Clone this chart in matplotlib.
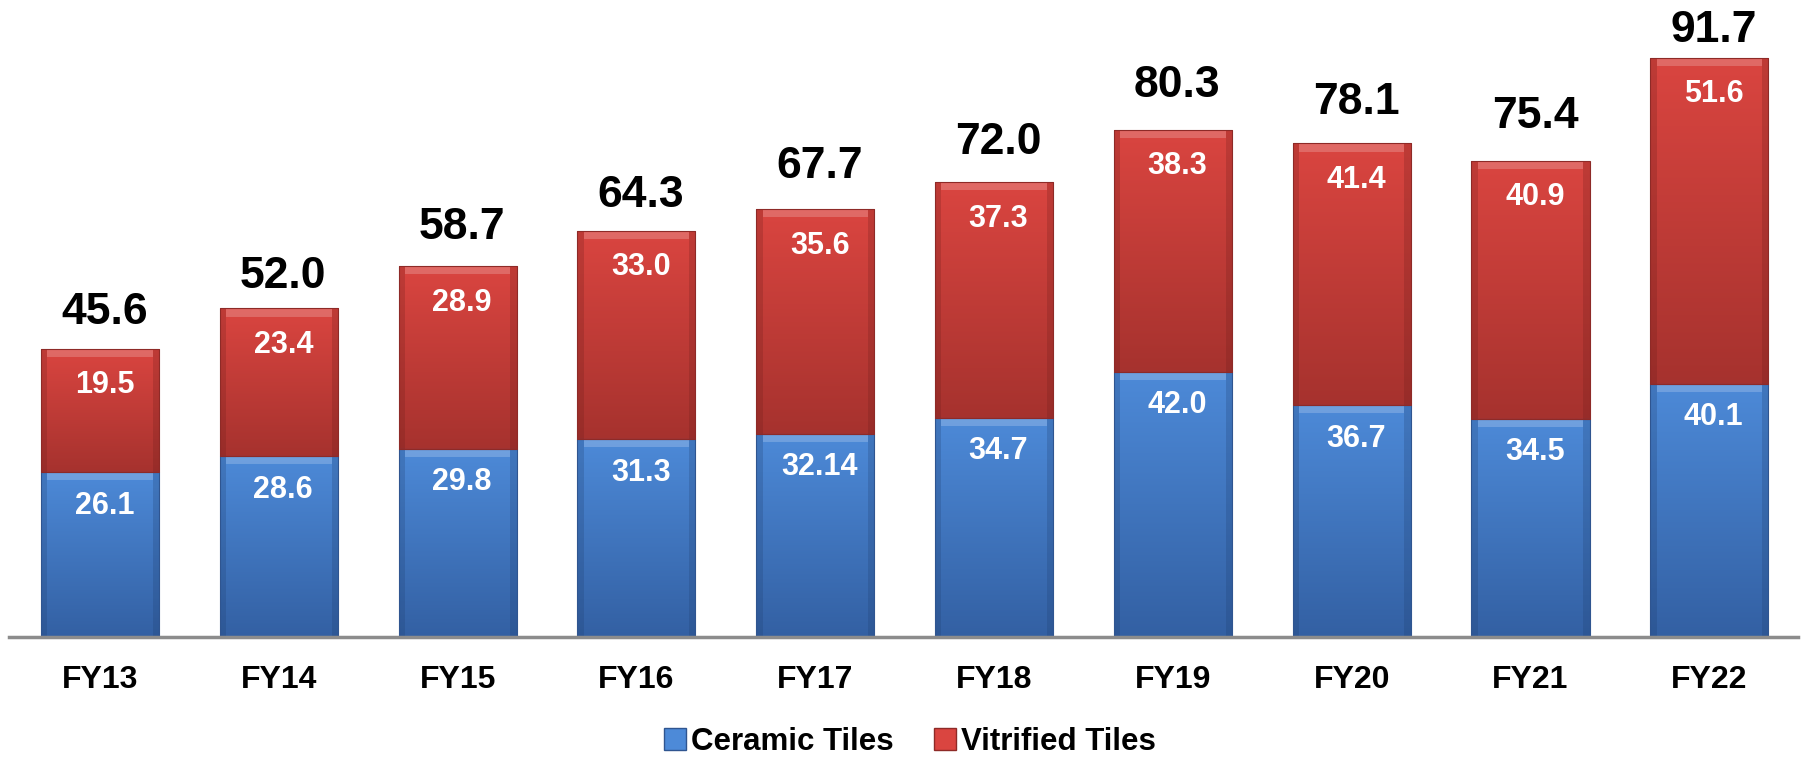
import numpy as np
import matplotlib
matplotlib.use("Agg")
import matplotlib.pyplot as plt
from matplotlib.colors import LinearSegmentedColormap
from matplotlib.patches import Patch

plt.rcParams['font.family'] = ['Liberation Sans', 'DejaVu Sans']

years = ["FY13", "FY14", "FY15", "FY16", "FY17", "FY18", "FY19", "FY20", "FY21", "FY22"]
ceramic = [26.1, 28.6, 29.8, 31.3, 32.14, 34.7, 42.0, 36.7, 34.5, 40.1]
vitrified = [19.5, 23.4, 28.9, 33.0, 35.6, 37.3, 38.3, 41.4, 40.9, 51.6]
ceramic_labels = ["26.1", "28.6", "29.8", "31.3", "32.14", "34.7", "42.0", "36.7", "34.5", "40.1"]
vitrified_labels = ["19.5", "23.4", "28.9", "33.0", "35.6", "37.3", "38.3", "41.4", "40.9", "51.6"]
total_labels = ["45.6", "52.0", "58.7", "64.3", "67.7", "72.0", "80.3", "78.1", "75.4", "91.7"]

# gap between bar top and total label baseline (labels were hand placed)
total_gap = [3.9, 3.3, 4.3, 3.8, 4.9, 4.4, 5.1, 4.7, 5.2, 2.4]

blue_top, blue_bot = "#4d8ad8", "#3360a3"
red_top, red_bot = "#da4540", "#a6322e"

fig = plt.figure(figsize=(18.05, 7.58), dpi=100)
ax = fig.add_axes([9 / 1805, 121 / 758, 1789 / 1805, 637 / 758])

x = np.arange(len(years))
width = 0.66


def gradient_bars(bars, c_top, c_bot, edge):
    cmap = LinearSegmentedColormap.from_list("g", [c_bot, c_top])
    for b in bars:
        x0, y0 = b.get_x(), b.get_y()
        w, h = b.get_width(), b.get_height()
        grad = np.linspace(0, 1, 256).reshape(-1, 1)
        im = ax.imshow(grad, cmap=cmap, origin="lower", aspect="auto",
                       extent=[x0, x0 + w, y0, y0 + h], zorder=2)
        im.set_clip_path(b)
        # bevel: light band on top, darker sides
        ax.fill_between([x0 + 0.035, x0 + w - 0.035], y0 + h - 1.3, y0 + h,
                        color="white", alpha=0.2, lw=0, zorder=3)
        ax.fill_between([x0, x0 + 0.035], y0, y0 + h, color=edge, alpha=0.25, lw=0, zorder=3)
        ax.fill_between([x0 + w - 0.035, x0 + w], y0, y0 + h, color=edge, alpha=0.25, lw=0, zorder=3)
        b.set_facecolor("none")


b1 = ax.bar(x, ceramic, width, color=blue_top, edgecolor="#2f5590", linewidth=0.8, zorder=4)
b2 = ax.bar(x, vitrified, width, bottom=ceramic, color=red_top, edgecolor="#8e2a27", linewidth=0.8, zorder=4)
gradient_bars(b1, blue_top, blue_bot, "#1f3f70")
gradient_bars(b2, red_top, red_bot, "#6e1e1b")

dx = 0.025
for i in range(len(years)):
    top = ceramic[i] + vitrified[i]
    ax.text(x[i] + dx, top + total_gap[i], total_labels[i], ha="center", va="baseline",
            fontsize=32, fontweight="bold", color="black", zorder=5)
    ax.text(x[i] + dx, top - 5.8, vitrified_labels[i], ha="center", va="center",
            fontsize=22, fontweight="bold", color="white", zorder=5)
    ax.text(x[i] + dx, ceramic[i] - 5.3, ceramic_labels[i], ha="center", va="center",
            fontsize=22, fontweight="bold", color="white", zorder=5)

ax.set_xlim(-0.509, 9.496)
ax.set_ylim(0, 100.8)
ax.set_xticks(x)
ax.set_xticklabels(years, fontsize=23, fontweight="bold")
ax.tick_params(axis="x", length=0, pad=20)
ax.set_yticks([])
for s in ["top", "right", "left"]:
    ax.spines[s].set_visible(False)
ax.spines["bottom"].set_color("#8c8c8c")
ax.spines["bottom"].set_linewidth(2.5)
ax.spines["bottom"].set_zorder(6)

handles = [Patch(facecolor=blue_top, edgecolor="#2f5590", label="Ceramic Tiles"),
           Patch(facecolor=red_top, edgecolor="#8e2a27", label="Vitrified Tiles")]
fig.legend(handles=handles, loc="center", bbox_to_anchor=(910 / 1805, 1 - 742 / 758),
           ncol=2, frameon=False, prop={"size": 22.5, "weight": "bold"},
           handlelength=0.7, handleheight=0.7, handletextpad=0.16, columnspacing=1.3,
           borderpad=0, borderaxespad=0)

fig.savefig("out.png", dpi=100)
